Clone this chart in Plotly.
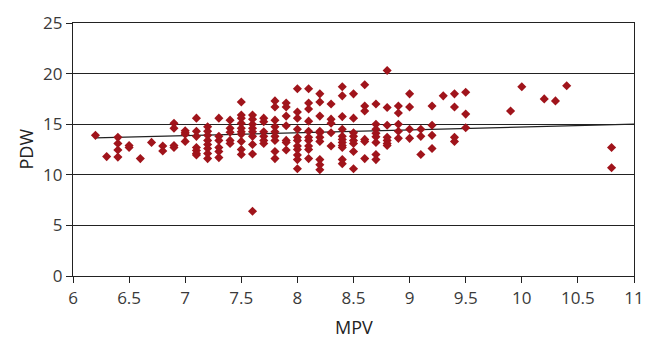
import plotly.graph_objects as go

# MPV values (x) and PDW values (y), read column by column
mpv = (
    [6.2] + [6.3] + [6.4]*4 + [6.5]*2 + [6.6] + [6.7] + [6.8]*2 + [6.9]*4 +
    [7.0]*4 + [7.1]*7 + [7.2]*8 + [7.3]*6 + [7.4]*5 + [7.5]*10 + [7.6]*9 +
    [7.7]*6 + [7.8]*9 + [7.9]*7 + [8.0]*11 + [8.1]*10 + [8.2]*10 + [8.3]*5 +
    [8.4]*11 + [8.5]*8 + [8.6]*6 + [8.7]*8 + [8.8]*7 + [8.9]*5 + [9.0]*4 +
    [9.1]*3 + [9.2]*4 + [9.3] + [9.4]*4 + [9.5]*3 + [9.9] + [10.0] + [10.2] +
    [10.3] + [10.4] + [10.8]*2
)
pdw = [
    13.9,
    11.8,
    13.7, 13.1, 12.45, 11.75,
    12.9, 12.7,
    11.6,
    13.2,
    12.85, 12.35,
    15.1, 14.6, 12.9, 12.7,
    14.35, 14.15, 14.0, 13.3,
    15.6, 14.3, 13.8, 12.7, 12.4, 12.1, 11.95,
    14.75, 14.3, 13.9, 13.4, 13.0, 12.6, 12.1, 11.6,
    15.6, 13.8, 13.4, 12.7, 12.3, 11.7,
    15.4, 14.6, 14.2, 13.4, 13.1,
    17.2, 15.9, 15.6, 15.1, 14.6, 14.25, 14.0, 13.3, 12.5, 12.0,
    15.9, 15.5, 15.0, 14.6, 14.25, 13.8, 13.0, 12.05, 6.4,
    15.6, 15.25, 14.25, 13.8, 13.4, 13.1,
    17.3, 16.7, 15.4, 14.75, 14.25, 13.8, 13.4, 12.3, 11.6,
    17.1, 16.7, 15.8, 14.85, 13.4, 13.2, 12.45,
    18.5, 16.2, 15.6, 14.5, 13.7, 13.4, 12.85, 12.5, 11.95, 11.5, 10.6,
    18.5, 17.1, 16.5, 15.3, 14.3, 13.7, 13.4, 12.85, 12.5, 11.6,
    18.0, 17.2, 15.8, 14.3, 14.15, 13.7, 13.3, 11.5, 11.0, 10.5,
    17.0, 15.5, 15.1, 14.15, 12.85,
    18.7, 17.8, 15.75, 14.5, 13.8, 13.5, 13.2, 12.9, 12.7, 11.5, 11.1,
    18.0, 15.6, 14.15, 13.8, 13.4, 13.1, 12.3, 10.6,
    18.9, 16.8, 16.3, 13.5, 13.3, 11.6,
    17.0, 15.0, 14.5, 14.1, 13.75, 13.2, 12.0, 11.5,
    20.3, 16.65, 14.9, 13.7, 13.4, 13.1, 12.9,
    16.8, 16.1, 15.0, 14.3, 13.6,
    18.0, 16.7, 14.5, 13.6,
    14.5, 13.8, 12.0,
    16.8, 14.9, 13.9, 12.6,
    17.8,
    18.0, 16.7, 13.7, 13.3,
    18.15, 16.0, 14.65,
    16.3,
    18.7,
    17.5,
    17.3,
    18.8,
    12.7, 10.7,
]

# trend line end points
trend_mpv = [6.2, 11.0]
trend_pdw = [13.65, 15.0]

x_ticks = [6, 6.5, 7, 7.5, 8, 8.5, 9, 9.5, 10, 10.5, 11]
x_tick_labels = ["6", "6.5", "7", "7.5", "8", "8.5", "9", "9.5", "10", "10.5", "11"]
y_ticks = [0, 5, 10, 15, 20, 25]

fig = go.Figure()
fig.add_trace(go.Scatter(
    x=trend_mpv, y=trend_pdw, mode="lines",
    line=dict(color="#222222", width=1.3), hoverinfo="skip", showlegend=False,
))
fig.add_trace(go.Scatter(
    x=mpv, y=pdw, mode="markers",
    marker=dict(symbol="diamond", size=7, color="#a0141b"),
    showlegend=False,
))

font_family = "Open Sans, DejaVu Sans, sans-serif"
fig.update_layout(
    width=645, height=338,
    margin=dict(l=73, r=11, t=23, b=62, autoexpand=False),
    paper_bgcolor="white", plot_bgcolor="white",
    font=dict(family=font_family, size=17, color="#3a3a3a"),
    showlegend=False,
    annotations=[
        dict(text="MPV", xref="paper", yref="paper", x=0.5, y=0,
             yshift=-51, yanchor="middle", xanchor="center", showarrow=False,
             font=dict(size=18, color="#222222")),
        dict(text="PDW", xref="paper", yref="paper", x=0, y=0.5,
             xshift=-48, xanchor="center", yanchor="middle", textangle=-90,
             showarrow=False, font=dict(size=18, color="#222222")),
    ],
)
fig.update_xaxes(
    range=[6, 11], tickvals=x_ticks, ticktext=x_tick_labels,
    showgrid=False, zeroline=False, automargin=False,
    showline=True, linecolor="#222222", linewidth=1.3, mirror=True,
    ticks="outside", ticklen=6, tickcolor="#222222", tickwidth=1.3,
    tickfont=dict(size=17, color="#3a3a3a"),
)
fig.update_yaxes(
    range=[0, 25], tickvals=y_ticks, automargin=False,
    showgrid=True, gridcolor="#222222", gridwidth=1.2, zeroline=False,
    showline=True, linecolor="#222222", linewidth=1.3, mirror=True,
    ticks="outside", ticklen=6, tickcolor="#222222", tickwidth=1.3,
    tickfont=dict(size=17, color="#3a3a3a"),
)

fig.write_html(
    "out.html",
    config={"displayModeBar": False},
    post_script="document.body.style.margin='0';document.body.style.overflow='hidden';",
)
